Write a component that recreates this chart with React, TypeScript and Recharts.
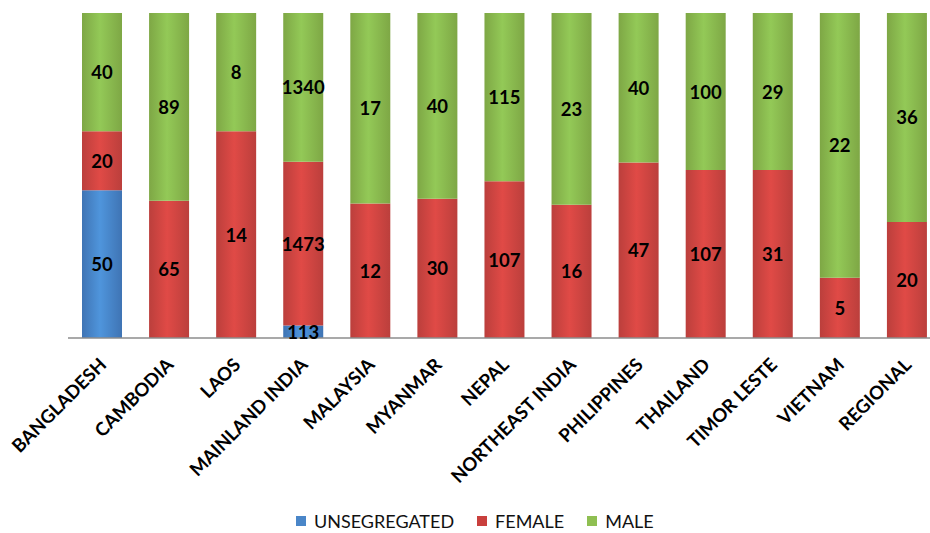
import React from "react";
import { BarChart, Bar, XAxis, YAxis, LabelList } from "recharts";

const countries = [
  "BANGLADESH",
  "CAMBODIA",
  "LAOS",
  "MAINLAND INDIA",
  "MALAYSIA",
  "MYANMAR",
  "NEPAL",
  "NORTHEAST INDIA",
  "PHILIPPINES",
  "THAILAND",
  "TIMOR LESTE",
  "VIETNAM",
  "REGIONAL",
];
const unsegregated = [50, 0, 0, 113, 0, 0, 0, 0, 0, 0, 0, 0, 0];
const female = [20, 65, 14, 1473, 12, 30, 107, 16, 47, 107, 31, 5, 20];
const male = [40, 89, 8, 1340, 17, 40, 115, 23, 40, 100, 29, 22, 36];

const data = countries.map((name, i) => ({
  name,
  unsegregated: unsegregated[i],
  female: female[i],
  male: male[i],
}));

const FONT = "Lato, 'Open Sans', sans-serif";

const renderLabel = (props: any) => {
  const { x, y, width, height, value } = props;
  if (!value) return null;
  return (
    <text
      x={x + width / 2}
      y={y + height / 2}
      textAnchor="middle"
      dominantBaseline="central"
      fontFamily={FONT}
      fontWeight={700}
      fontSize={18.5}
      fill="#000"
    >
      {value}
    </text>
  );
};

const CountryTick = (props: any) => {
  const { x, y, payload } = props;
  return (
    <text
      transform={`translate(${x + 6}, ${y + 20}) rotate(-45)`}
      textAnchor="end"
      fontFamily={FONT}
      fontWeight={700}
      fontSize={18.5}
      fill="#000"
    >
      {payload.value}
    </text>
  );
};

const legendItems = [
  { label: "UNSEGREGATED", color: "#4a86c8" },
  { label: "FEMALE", color: "#c9403d" },
  { label: "MALE", color: "#8fbf52" },
];

function Gradient({ id, edge, mid }: { id: string; edge: string; mid: string }) {
  return (
    <linearGradient id={id} x1="0" y1="0" x2="1" y2="0">
      <stop offset="0%" stopColor={edge} />
      <stop offset="45%" stopColor={mid} />
      <stop offset="100%" stopColor={edge} />
    </linearGradient>
  );
}

export default function App() {
  return (
    <div
      style={{
        position: "absolute",
        left: 0,
        top: 0,
        width: 930,
        height: 533,
        overflow: "hidden",
        background: "#fff",
      }}
    >
      <BarChart
        width={945}
        height={533}
        data={data}
        stackOffset="expand"
        barSize={40}
        margin={{ top: 13, right: 5, left: 68, bottom: 0 }}
      >
        <defs>
          <Gradient id="gBlue" edge="#3f74b4" mid="#4f95dc" />
          <Gradient id="gRed" edge="#bb3f3c" mid="#e04a46" />
          <Gradient id="gGreen" edge="#7ea745" mid="#93c957" />
        </defs>
        <XAxis
          dataKey="name"
          interval={0}
          height={195}
          tickLine={false}
          axisLine={{ stroke: "#8c8c8c", strokeWidth: 1.5 }}
          tick={<CountryTick />}
        />
        <YAxis hide domain={[0, 1]} />
        <Bar dataKey="unsegregated" stackId="a" fill="url(#gBlue)" isAnimationActive={false}>
          <LabelList dataKey="unsegregated" content={renderLabel} />
        </Bar>
        <Bar dataKey="female" stackId="a" fill="url(#gRed)" isAnimationActive={false}>
          <LabelList dataKey="female" content={renderLabel} />
        </Bar>
        <Bar dataKey="male" stackId="a" fill="url(#gGreen)" isAnimationActive={false}>
          <LabelList dataKey="male" content={renderLabel} />
        </Bar>
      </BarChart>
      <div
        style={{
          position: "absolute",
          top: 512,
          left: 296,
          display: "flex",
          gap: 23,
          fontFamily: FONT,
          fontSize: 18,
          color: "#111",
          lineHeight: "18px",
        }}
      >
        {legendItems.map((it) => (
          <div key={it.label} style={{ display: "flex", alignItems: "center", gap: 8 }}>
            <span style={{ width: 10, height: 10, background: it.color, display: "inline-block" }} />
            <span>{it.label}</span>
          </div>
        ))}
      </div>
    </div>
  );
}
